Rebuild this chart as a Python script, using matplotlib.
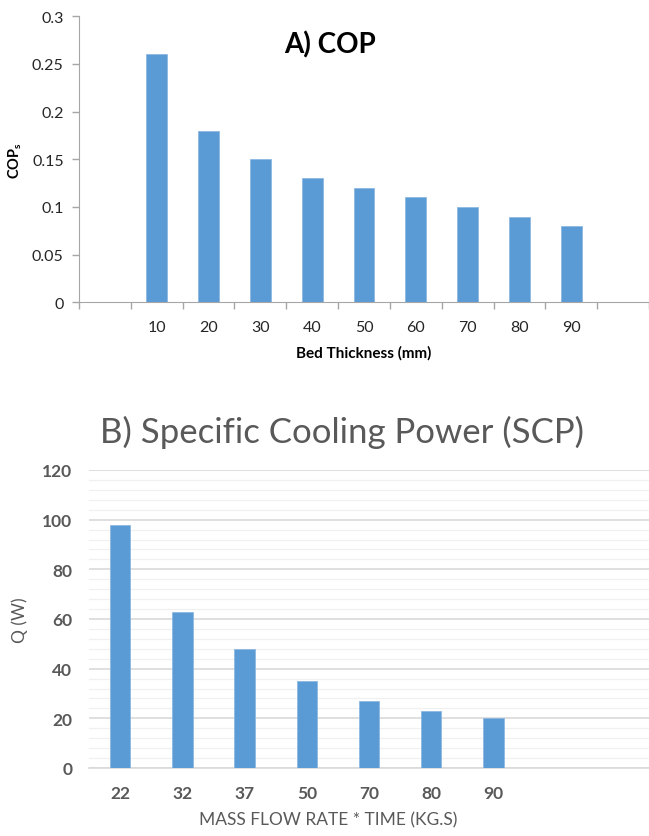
import matplotlib
matplotlib.use('Agg')
import matplotlib.pyplot as plt
from matplotlib.ticker import MultipleLocator, FixedLocator

plt.rcParams['font.family'] = ['Lato', 'DejaVu Sans']
plt.rcParams['mathtext.fontset'] = 'custom'
plt.rcParams['mathtext.rm'] = 'Lato'
plt.rcParams['mathtext.bf'] = 'Lato:bold'

# A) COP data
cop_labels = ['', '10', '20', '30', '40', '50', '60', '70', '80', '90', '']
cop_values = [None, 0.26, 0.18, 0.15, 0.13, 0.12, 0.11, 0.10, 0.09, 0.08, None]

# B) SCP data
scp_labels = ['22', '32', '37', '50', '70', '80', '90', '', '']
scp_values = [98, 63, 48, 35, 27, 23, 20, None, None]

bar_color = '#5B9BD5'
axis_gray = '#A6A6A6'
text_gray = '#595959'

fig = plt.figure(figsize=(6.49, 8.37), dpi=100)

# ---- top chart ----
ax1 = fig.add_axes([79/649, (837-303.3)/837, 570/649, 286/837])
pos1 = [i for i, v in enumerate(cop_values) if v is not None]
ax1.bar(pos1, [cop_values[i] for i in pos1], width=0.4, color=bar_color,
        edgecolor='#8DB8E2', linewidth=0.6)
ax1.set_xlim(-0.5, len(cop_labels) - 0.5)
ax1.set_ylim(0, 0.3)
ax1.set_yticks([0, 0.05, 0.1, 0.15, 0.2, 0.25, 0.3])
ax1.set_yticklabels(['0', '0.05', '0.1', '0.15', '0.2', '0.25', '0.3'])
ax1.xaxis.set_major_locator(FixedLocator([i - 0.5 for i in range(len(cop_labels) + 1)]))
ax1.xaxis.set_minor_locator(FixedLocator(list(range(len(cop_labels)))))
ax1.set_xticklabels([], minor=False)
ax1.set_xticklabels(cop_labels, minor=True)
ax1.tick_params(axis='x', which='major', length=5, color=axis_gray, width=1)
ax1.tick_params(axis='x', which='minor', length=0, pad=13, labelsize=11.5, labelcolor='#262626')
ax1.tick_params(axis='y', length=5, color=axis_gray, width=1, pad=6, labelsize=11.5, labelcolor='#262626')
for s in ['top', 'right']:
    ax1.spines[s].set_visible(False)
for s in ['left', 'bottom']:
    ax1.spines[s].set_color(axis_gray)
ax1.set_xlabel('Bed Thickness (mm)', fontsize=11, fontweight='bold', labelpad=8)
ax1.set_ylabel(r'$\mathbf{COP}_\mathbf{s}$', fontsize=10.5, labelpad=6)
ax1.text(330/649, 1 - 45/837, 'A) COP', transform=fig.transFigure, ha='center', va='center',
         fontsize=20, fontweight='bold')

# ---- bottom chart ----
ax2 = fig.add_axes([89/649, (837-769)/837, 560/649, 298/837])
pos2 = [i for i, v in enumerate(scp_values) if v is not None]
ax2.bar(pos2, [scp_values[i] for i in pos2], width=0.33, color=bar_color,
        edgecolor='#8DB8E2', linewidth=0.6, zorder=3)
ax2.set_xlim(-0.5, len(scp_labels) - 0.5)
ax2.set_ylim(0, 120)
ax2.yaxis.set_major_locator(MultipleLocator(20))
ax2.yaxis.set_minor_locator(MultipleLocator(4))
ax2.set_xticks(range(len(scp_labels)))
ax2.set_xticklabels(scp_labels)
ax2.grid(axis='y', which='major', color='#D9D9D9', linewidth=1.2, zorder=0)
ax2.grid(axis='y', which='minor', color='#F0F0F0', linewidth=0.9, zorder=0)
ax2.set_axisbelow(True)
ax2.tick_params(axis='both', which='both', length=0)
ax2.tick_params(axis='x', pad=12, labelsize=12.5, labelcolor=text_gray)
ax2.tick_params(axis='y', pad=12, labelsize=12.5, labelcolor=text_gray)
for lbl in ax2.get_xticklabels() + ax2.get_yticklabels():
    lbl.set_fontweight('bold')
for s in ['top', 'right', 'left']:
    ax2.spines[s].set_visible(False)
ax2.spines['bottom'].set_color('#D9D9D9')
ax2.spines['bottom'].set_linewidth(1.2)
ax2.set_xlabel('MASS FLOW RATE * TIME (KG.S)', fontsize=12.5, color=text_gray)
ax2.xaxis.set_label_coords((328 - 89) / 560, -0.145)
ax2.set_ylabel('Q (W)', fontsize=12.5, color=text_gray, labelpad=10)
fig.text(342/649, 1 - 432/837, 'B) Specific Cooling Power (SCP)', ha='center', va='center',
         fontsize=25, color=text_gray)

fig.savefig('out.png', dpi=100)
